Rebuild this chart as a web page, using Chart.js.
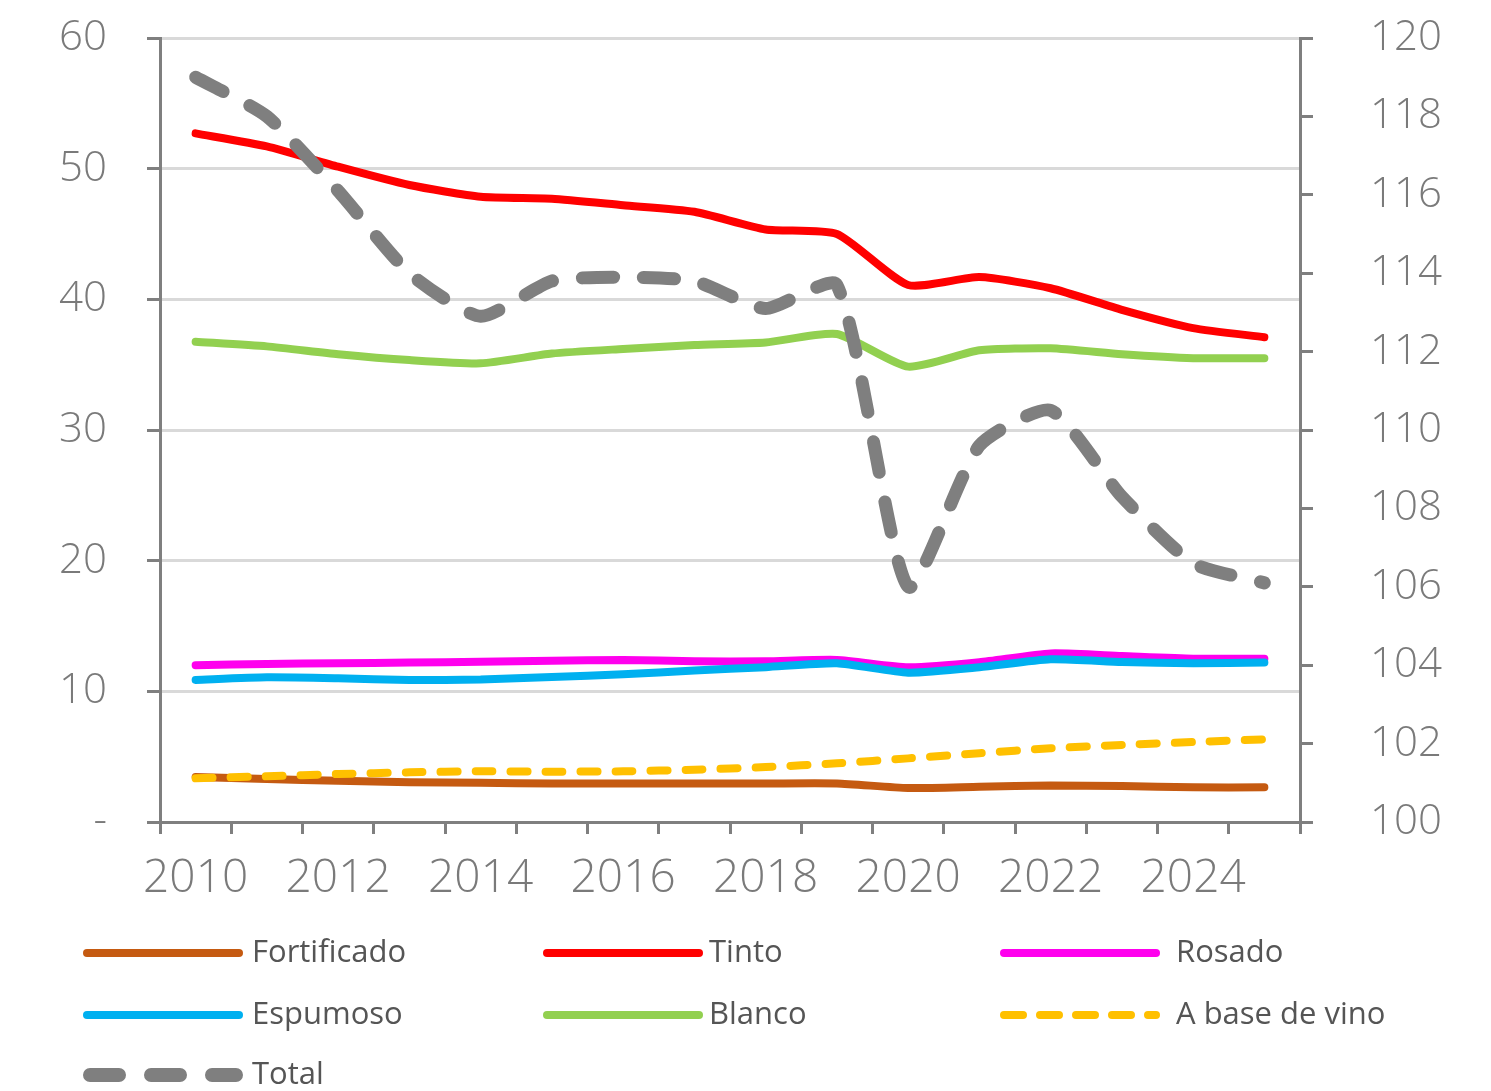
<!DOCTYPE html>
<html>
<head>
<meta charset="utf-8">
<script src="https://cdn.jsdelivr.net/npm/chart.js@4"></script>
<style>
  html, body { margin: 0; padding: 0; background: #ffffff; }
  #wrap { width: 1491px; height: 1091px; }
</style>
</head>
<body>
<div id="wrap"><canvas id="c" width="1491" height="1091"></canvas></div>
<script>
// ---- Data ----
const years = ['2010','2011','2012','2013','2014','2015','2016','2017','2018','2019','2020','2021','2022','2023','2024','2025'];
const fortificado = [3.45, 3.3, 3.15, 3.05, 3.0, 2.95, 2.95, 2.95, 2.95, 2.95, 2.6, 2.7, 2.8, 2.75, 2.65, 2.65];
const tinto       = [52.7, 51.7, 50.15, 48.75, 47.85, 47.7, 47.2, 46.7, 45.35, 45.0, 41.1, 41.7, 40.85, 39.2, 37.8, 37.1];
const rosado      = [12.0, 12.1, 12.15, 12.2, 12.27, 12.35, 12.4, 12.3, 12.3, 12.4, 11.84, 12.22, 12.9, 12.7, 12.5, 12.5];
const espumoso    = [10.87, 11.07, 11.0, 10.87, 10.9, 11.1, 11.3, 11.6, 11.85, 12.15, 11.43, 11.84, 12.45, 12.24, 12.15, 12.2];
const blanco      = [36.76, 36.4, 35.8, 35.35, 35.1, 35.85, 36.2, 36.5, 36.7, 37.35, 34.85, 36.1, 36.25, 35.8, 35.5, 35.5];
const baseVino    = [3.34, 3.5, 3.67, 3.8, 3.88, 3.85, 3.88, 4.0, 4.2, 4.49, 4.87, 5.26, 5.64, 5.9, 6.12, 6.33];
const total       = [119.0, 118.0, 116.1, 114.0, 112.9, 113.8, 113.9, 113.8, 113.1, 113.7, 106.0, 109.6, 110.5, 108.3, 106.6, 106.1];
const leftTicks = [0, 10, 20, 30, 40, 50, 60];
const rightTicks = [100, 102, 104, 106, 108, 110, 112, 114, 116, 118, 120];

const AXIS = '#7f7f7f';
const GRID = '#d9d9d9';
const TICKTXT = '#7a7a7a';
const FONT = "'Open Sans', 'DejaVu Sans', sans-serif";

function ds(label, data, color, opts) {
  return Object.assign({
    label: label, data: data, borderColor: color, backgroundColor: color,
    borderWidth: 8, pointRadius: 0, pointHoverRadius: 0, tension: 0.2,
    borderJoinStyle: 'round', borderCapStyle: 'round', yAxisID: 'y', fill: false
  }, opts || {});
}

const datasets = [
  ds('Fortificado', fortificado, '#c55a11', {order: 4}),
  ds('Tinto', tinto, '#ff0000', {order: 3}),
  ds('Rosado', rosado, '#ff00ee', {order: 3}),
  ds('Espumoso', espumoso, '#00b0f0', {order: 2}),
  ds('Blanco', blanco, '#92d050', {order: 3}),
  ds('A base de vino', baseVino, '#ffc000', {order: 1, borderDash: [17, 18]}),
  ds('Total', total, '#7f7f7f', {order: 0, borderWidth: 13, borderDash: [31, 30], yAxisID: 'y1'})
];

// custom legend laid out as in reference (3 columns)
const legendCols = [{lx: 83, tx: 252}, {lx: 543, tx: 709}, {lx: 1000, tx: 1176}];
const legendRows = [953, 1015, 1075];
const legendPlugin = {
  id: 'gridLegend',
  afterDraw(chart) {
    const ctx = chart.ctx;
    chart.data.datasets.forEach((d, i) => {
      const col = legendCols[i % 3];
      const y = legendRows[Math.floor(i / 3)];
      const w = d.borderWidth === 13 ? 14 : 8;
      ctx.save();
      ctx.strokeStyle = d.borderColor;
      ctx.lineWidth = w;
      ctx.lineCap = 'round';
      if (d.borderDash) ctx.setLineDash(d.label === 'Total' ? [29, 32] : [19, 17]);
      ctx.beginPath();
      ctx.moveTo(col.lx + w / 2, y);
      ctx.lineTo(col.lx + 160 - w / 2, y);
      ctx.stroke();
      ctx.restore();
      ctx.save();
      ctx.fillStyle = '#555555';
      ctx.font = "31px " + FONT;
      ctx.textBaseline = 'middle';
      ctx.textAlign = 'left';
      ctx.fillText(d.label, col.tx, y);
      ctx.restore();
    });
  }
};

function noPad(s) { s.paddingTop = 0; s.paddingBottom = 0; }

new Chart(document.getElementById('c'), {
  type: 'line',
  data: { labels: years, datasets: datasets },
  options: {
    responsive: false,
    devicePixelRatio: 1,
    animation: false,
    layout: { padding: { top: 38, left: 0, right: 0, bottom: 0 } },
    plugins: { legend: { display: false }, tooltip: { enabled: false } },
    scales: {
      x: {
        type: 'category',
        offset: true,
        grid: { offset: true, drawOnChartArea: false, tickLength: 12, color: AXIS, tickColor: AXIS, lineWidth: 3 },
        border: { color: AXIS, width: 3 },
        ticks: {
          autoSkip: false, maxRotation: 0, minRotation: 0, padding: 17,
          color: TICKTXT, font: { family: FONT, size: 46, weight: 300 },
          callback: function(v, i) { return i % 2 === 0 ? years[i] : ''; }
        },
        afterFit: function(s) { s.height = 1091 - 822; s.paddingLeft = 0; s.paddingRight = 0; }
      },
      y: {
        position: 'left', min: 0, max: 60,
        afterBuildTicks: function(s) { s.ticks = leftTicks.map(v => ({ value: v })); },
        grid: {
          color: ctx => (ctx.tick && ctx.tick.value === 0) ? AXIS : GRID,
          tickColor: AXIS, lineWidth: 3, tickLength: 13
        },
        border: { color: AXIS, width: 3 },
        ticks: {
          padding: 40, color: TICKTXT, font: { family: FONT, size: 42, weight: 300 },
          callback: v => v === 0 ? '-' : String(v)
        },
        afterFit: function(s) { s.width = 160; noPad(s); }
      },
      y1: {
        position: 'right', min: 100, max: 120,
        afterBuildTicks: function(s) { s.ticks = rightTicks.map(v => ({ value: v })); },
        grid: { drawOnChartArea: false, color: AXIS, tickColor: AXIS, lineWidth: 3, tickLength: 13 },
        border: { color: AXIS, width: 3 },
        ticks: {
          padding: 57, color: TICKTXT, font: { family: FONT, size: 42, weight: 300 },
          callback: v => String(v)
        },
        afterFit: function(s) { s.width = 1491 - 1300; noPad(s); }
      }
    }
  },
  plugins: [legendPlugin]
});
</script>
</body>
</html>
